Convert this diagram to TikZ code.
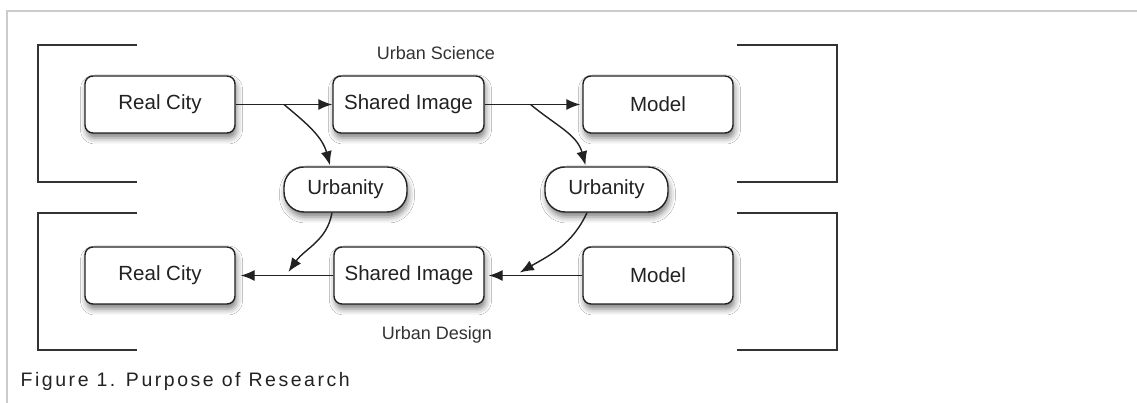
\documentclass[tikz,border=0pt]{standalone}
\usepackage{fontspec}
\setmainfont{Liberation Sans}
\usetikzlibrary{arrows.meta,shadows.blur,calc}
\definecolor{ink}{HTML}{222222}
\definecolor{lbl}{HTML}{333333}
\definecolor{frame}{HTML}{CCCCCC}
\begin{document}
\begin{tikzpicture}[x=1pt,y=1pt,
  box/.style={draw=ink, line width=1.4pt, rounded corners=8pt, fill=white,
    minimum width=150pt, minimum height=57pt, inner sep=0pt, text=ink,
    font=\fontsize{20.5}{24}\selectfont,
    blur shadow={shadow xshift=1.5pt, shadow yshift=-5pt, shadow blur radius=6pt, shadow opacity=50}},
  pill/.style={box, rounded corners=20pt, minimum width=123pt, minimum height=45pt},
  conn/.style={draw=ink, line width=1.4pt},
  arr/.style={conn, -{Latex[length=14pt,width=11pt]}},
  brk/.style={draw=lbl, line width=1.4pt},
  lab/.style={text=lbl, font=\fontsize{18}{21}\selectfont, inner sep=0pt, anchor=base}]
\useasboundingbox (0,0) rectangle (1137,403);
\fill[white] (0,0) rectangle (1137,403);
\draw[frame, line width=2pt] (1138,392) -- (7,392) -- (7,-1);
% brackets
\draw[brk] (137,358) -- (38,358) -- (38,221) -- (137,221);
\draw[brk] (137,190) -- (38,190) -- (38,53) -- (137,53);
\draw[brk] (737,358) -- (837,358) -- (837,221) -- (737,221);
\draw[brk] (737,190) -- (837,190) -- (837,53) -- (737,53);
% nodes
\node[box] (rc1) at (160,298.5) {Real City};
\node[box, minimum width=151pt] (si1) at (408.5,298.5) {Shared Image};
\node[box] (m1) at (658,298.5) {Model};
\node[pill] (u1) at (345.5,213.5) {Urbanity};
\node[pill] (u2) at (606.5,213.5) {Urbanity};
\node[box] (rc2) at (160,127.5) {Real City};
\node[box] (si2) at (409,127.5) {Shared Image};
\node[box] (m2) at (658,127.5) {Model};
% labels
\node[lab] (us) at (436,343) {Urban Science};
\node[lab] (ud) at (437,63) {Urban Design};
\node[text=ink, font=\fontsize{19.5}{23}\selectfont\addfontfeature{LetterSpace=13}, inner sep=0pt, anchor=base west] (cap) at (20.5,16) {Figure 1. Purpose of Research};
% connectors
\coordinate (b1) at ($(rc1.east)!0.5!(si1.west)$);
\coordinate (b2) at ($(si1.east)!0.47!(m1.west)$);
\coordinate (c1) at ($(rc2.east)!0.54!(si2.west)+(0,3.5)$);
\coordinate (c2) at ($(si2.east)!0.36!(m2.west)+(0,3)$);
\draw[arr] (rc1.east) -- (si1.west);
\draw[arr, shorten >=2pt] (si1.east) -- (m1.west);
\draw[arr] (b1) to[out=-40,in=105] ([xshift=-15.5pt,yshift=1pt]u1.north);
\draw[arr] (b2) to[out=-40,in=105] ([xshift=-21pt,yshift=1pt]u2.north);
\draw[arr, shorten >=5pt] (si2.west) -- (rc2.east);
\draw[arr, shorten >=4pt] (m2.west) -- (si2.east);
\draw[arr] ([xshift=-13.5pt]u1.south) to[out=-100,in=55] (c1);
\draw[arr] ([xshift=-19.5pt]u2.south) to[out=-115,in=30] (c2);
\end{tikzpicture}
\end{document}
